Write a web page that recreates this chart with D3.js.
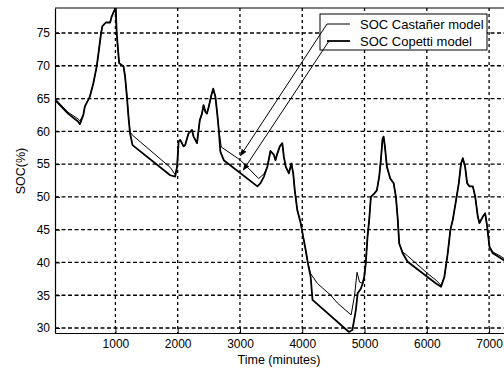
<!DOCTYPE html>
<html>
<head>
<meta charset="utf-8">
<script src="https://cdn.jsdelivr.net/npm/d3@7/dist/d3.min.js"></script>
<style>
  html, body { margin: 0; padding: 0; background: #ffffff; }
  svg { display: block; }
  text { font-family: Arial, "Liberation Sans", sans-serif; fill: #000; }
</style>
</head>
<body>
<svg id="chart" width="504" height="370"></svg>
<script>
// State of charge (%) over time (minutes) for two battery models
const copettiTime = [30, 240, 400, 430, 485, 510, 590, 645, 700, 735, 770, 790, 845, 915, 940, 985, 1005,
  1020, 1060, 1130, 1155, 1185, 1210, 1235, 1275, 1880, 1960, 1990, 2015, 2040, 2095, 2120, 2175, 2230,
  2255, 2310, 2355, 2390, 2415, 2445, 2470, 2500, 2535, 2570, 2605, 2635, 2660, 2685, 2740, 3280, 3330,
  3385, 3440, 3490, 3545, 3570, 3600, 3640, 3680, 3705, 3735, 3785, 3825, 3855, 3880, 3920, 3975, 4015,
  4055, 4090, 4135, 4165, 4750, 4805, 4860, 4890, 4940, 4970, 4995, 5020, 5048, 5075, 5102, 5155, 5198,
  5236, 5262, 5290, 5306, 5327, 5359, 5413, 5467, 5504, 5531, 5557, 5612, 5692, 6148, 6229, 6282, 6336,
  6379, 6417, 6470, 6514, 6550, 6578, 6615, 6647, 6685, 6739, 6776, 6819, 6845, 6900, 6937, 6969, 7006,
  7060, 7195, 7240];
const copettiSOC = [64.8, 62.7, 61.5, 61.1, 62.5, 63.8, 65.3, 67.3, 69.9, 72.4, 75.0, 76.0, 76.6, 76.6, 77.5, 78.5, 79.0,
  75.0, 70.4, 69.9, 68.4, 65.3, 62.2, 59.7, 57.9, 53.3, 53.1, 54.6, 58.4, 58.7, 57.7, 57.9, 59.7, 60.2,
  59.2, 58.2, 61.7, 62.7, 64.0, 63.0, 62.7, 63.8, 65.3, 66.5, 65.3, 62.7, 60.2, 56.9, 55.6, 51.6, 52.1,
  53.1, 54.6, 57.0, 56.4, 55.6, 56.6, 57.7, 58.2, 56.1, 54.6, 53.6, 55.1, 53.6, 51.0, 48.0, 46.0, 43.9,
  41.9, 39.9, 37.8, 34.3, 29.4, 29.7, 32.7, 35.3, 36.0, 36.8, 37.8, 39.9, 43.9, 46.5, 50.0, 50.5, 51.0,
  53.1, 55.6, 58.9, 59.2, 57.7, 54.6, 52.8, 52.1, 50.0, 46.9, 42.9, 41.4, 40.1, 36.8, 36.3, 37.8, 41.4,
  45.0, 46.5, 49.5, 52.1, 55.1, 55.9, 54.6, 52.1, 51.6, 51.6, 50.1, 47.0, 46.0, 47.0, 47.5, 45.5, 42.4,
  41.4, 40.6, 40.3];

const castanerTime = [30, 240, 400, 430, 485, 510, 590, 645, 700, 735, 770, 790, 845, 915, 940, 985, 1005,
  1020, 1060, 1130, 1155, 1185, 1210, 1235, 1275, 1880, 1960, 1990, 2015, 2040, 2095, 2120, 2175, 2230,
  2255, 2310, 2355, 2390, 2415, 2445, 2470, 2500, 2535, 2570, 2605, 2635, 2660, 2700, 3008, 3300, 3385,
  3440, 3490, 3545, 3570, 3600, 3640, 3680, 3705, 3735, 3785, 3825, 3855, 3880, 3920, 3975, 4015,
  4055, 4090, 4135, 4243, 4457, 4565, 4785, 4840, 4880, 4920, 4970, 4995, 5020, 5048, 5075, 5102, 5155, 5198,
  5236, 5262, 5290, 5306, 5327, 5359, 5413, 5467, 5504, 5531, 5557, 5612, 5692, 6014, 6148, 6229, 6282, 6336,
  6379, 6417, 6470, 6514, 6550, 6578, 6615, 6647, 6685, 6739, 6776, 6819, 6845, 6900, 6937, 6969, 7006,
  7060, 7195, 7240];
const castanerSOC = [65.0, 62.9, 61.9, 61.6, 62.5, 63.8, 65.3, 67.3, 69.9, 72.4, 75.0, 76.0, 76.6, 76.6, 77.5, 78.5, 79.0,
  75.0, 70.4, 69.9, 68.4, 65.3, 62.2, 59.9, 59.4, 54.5, 53.4, 54.6, 58.4, 58.7, 57.7, 57.9, 59.7, 60.2,
  59.2, 58.2, 61.7, 62.7, 64.0, 63.0, 62.7, 63.8, 65.3, 66.5, 65.3, 62.7, 60.2, 57.6, 55.6, 52.8, 53.5,
  54.6, 57.0, 56.4, 55.6, 56.6, 57.7, 58.2, 56.1, 54.6, 53.6, 55.1, 53.6, 51.0, 48.0, 46.0, 43.9,
  41.9, 39.9, 38.3, 36.8, 35.0, 33.8, 32.0, 35.0, 38.5, 37.0, 36.8, 37.8, 39.9, 43.9, 46.5, 50.0, 50.5, 51.0,
  53.1, 55.6, 58.9, 59.2, 57.7, 54.6, 52.8, 52.1, 50.0, 46.9, 42.9, 41.6, 41.0, 38.3, 37.3, 36.5, 37.8, 41.4,
  45.0, 46.5, 49.5, 52.1, 55.1, 55.9, 54.6, 52.1, 51.6, 51.6, 50.1, 47.0, 46.0, 47.0, 47.5, 45.5, 42.4,
  41.6, 40.9, 40.6];

const xTickValues = [1000, 2000, 3000, 4000, 5000, 6000, 7000];
const yTickValues = [30, 35, 40, 45, 50, 55, 60, 65, 70, 75];
const seriesNames = ["SOC Castañer model", "SOC Copetti model"];
// arrow tips (time, SOC) for the legend call-outs
const calloutTime = [3010, 3055];
const calloutSOC = [56.3, 54.1];

const svg = d3.select("#chart");
const plotLeft = 55, plotTop = 8, plotBottom = 333, plotRight = 514;

const x = d3.scaleLinear().domain([30, 7400]).range([plotLeft, plotRight]);
const y = d3.scaleLinear().domain([29.24, 78.81]).range([plotBottom, plotTop]);

const defs = svg.append("defs");
defs.append("clipPath").attr("id", "plotArea")
  .append("rect").attr("x", plotLeft).attr("y", plotTop)
  .attr("width", plotRight - plotLeft).attr("height", plotBottom - plotTop);

defs.append("marker")
  .attr("id", "arrowHead").attr("viewBox", "0 0 10 10")
  .attr("refX", 9).attr("refY", 5)
  .attr("markerWidth", 7).attr("markerHeight", 7)
  .attr("markerUnits", "userSpaceOnUse")
  .attr("orient", "auto")
  .append("path").attr("d", "M0,1 L10,5 L0,9 Z").attr("fill", "#000");

// grid
const grid = svg.append("g");
grid.selectAll("line.hg").data(yTickValues).join("line").attr("class", "hg")
  .attr("x1", plotLeft).attr("x2", plotRight)
  .attr("y1", d => y(d)).attr("y2", d => y(d))
  .attr("stroke", "#000").attr("stroke-width", 1.3).attr("stroke-dasharray", "4,2.5");
grid.selectAll("line.vg").data(xTickValues).join("line").attr("class", "vg")
  .attr("y1", plotTop).attr("y2", plotBottom)
  .attr("x1", d => x(d)).attr("x2", d => x(d))
  .attr("stroke", "#000").attr("stroke-width", 1.3).attr("stroke-dasharray", "3,3");

// axes (ticks point inward)
const xAxis = d3.axisBottom(x).tickValues(xTickValues).tickFormat(d3.format("d"))
  .tickSizeInner(-5).tickSizeOuter(0).tickPadding(9);
const yAxis = d3.axisLeft(y).tickValues(yTickValues).tickFormat(d3.format("d"))
  .tickSizeInner(-5).tickSizeOuter(0).tickPadding(9);

const gx = svg.append("g").attr("transform", `translate(0,${plotBottom})`).call(xAxis);
const gy = svg.append("g").attr("transform", `translate(${plotLeft},0)`).call(yAxis);
[gx, gy].forEach(g => {
  g.select(".domain").attr("stroke", "#000").attr("stroke-width", 1.2);
  g.selectAll(".tick line").attr("stroke", "#000");
  g.selectAll(".tick text").attr("font-size", 12).attr("font-family", "Arial, 'Liberation Sans', sans-serif");
});
gy.selectAll(".tick text").attr("x", -5);
gx.selectAll(".tick text").attr("y", 6);

svg.append("line").attr("x1", plotLeft).attr("x2", plotRight).attr("y1", plotTop).attr("y2", plotTop)
  .attr("stroke", "#000").attr("stroke-width", 1.2);

// series
const plot = svg.append("g").attr("clip-path", "url(#plotArea)");
const line = d3.line().x(d => x(d[0])).y(d => y(d[1]));
plot.append("path")
  .datum(d3.zip(castanerTime, castanerSOC))
  .attr("d", line).attr("fill", "none").attr("stroke", "#000").attr("stroke-width", 1);
plot.append("path")
  .datum(d3.zip(copettiTime, copettiSOC))
  .attr("d", line).attr("fill", "none").attr("stroke", "#000").attr("stroke-width", 1.8)
  .attr("stroke-linejoin", "round");

// axis titles
svg.append("text").attr("x", 279).attr("y", 364).attr("text-anchor", "middle")
  .attr("font-size", 12.5).text("Time (minutes)");
svg.append("text").attr("transform", "translate(25,171) rotate(-90)").attr("text-anchor", "middle")
  .attr("font-size", 12.5).text("SOC(%)");

// legend
const legend = svg.append("g");
legend.append("rect").attr("x", 320).attr("y", 14).attr("width", 167).attr("height", 36)
  .attr("fill", "#fff").attr("stroke", "#000").attr("stroke-width", 1);
const legendRows = [24, 41];
const legendWidths = [1, 1.8];
seriesNames.forEach((name, i) => {
  legend.append("line").attr("x1", 327).attr("x2", 350)
    .attr("y1", legendRows[i]).attr("y2", legendRows[i])
    .attr("stroke", "#000").attr("stroke-width", legendWidths[i]);
  legend.append("text").attr("x", 360).attr("y", legendRows[i] + 4.5)
    .attr("font-size", 13).text(name);
  // call-out from legend sample to its curve
  legend.append("line")
    .attr("x1", 327 + i * 2).attr("y1", legendRows[i])
    .attr("x2", x(calloutTime[i])).attr("y2", y(calloutSOC[i]))
    .attr("stroke", "#000").attr("stroke-width", 1)
    .attr("marker-end", "url(#arrowHead)");
});
</script>
</body>
</html>
